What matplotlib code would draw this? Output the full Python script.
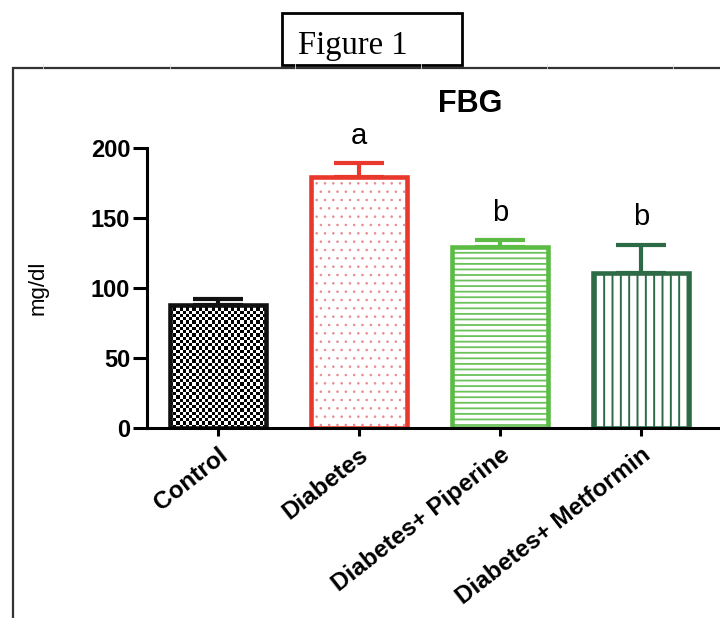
"""Bar chart of fasting blood glucose (FBG) for the four groups (Figure 1)."""
import matplotlib
matplotlib.use("Agg")
import matplotlib.pyplot as plt
import numpy as np
from matplotlib.lines import Line2D
from matplotlib.patches import Rectangle

groups = ["Control", "Diabetes", "Diabetes+ Piperine", "Diabetes+ Metformin"]
means = [88, 179, 129, 111]
errors = [4, 10, 5, 20]
letters = ["", "a", "b", "b"]
yticks = [0, 50, 100, 150, 200]

edge_colors = ["#111111", "#e8392c", "#5bbb45", "#2d6b47"]
hatch_colors = ["#111111", "#e98a8e", "#6cc25a", "#2d6b47"]
hatches = [None, "..", "---", "||"]
hatch_widths = [1.0, 0.6, 1.3, 1.4]

plt.rcParams["font.family"] = ["Liberation Sans", "DejaVu Sans"]

fig = plt.figure(figsize=(7.2, 6.18), dpi=100)
ax = fig.add_axes([0.2042, 0.3074, 0.7958, 0.4531])

x = np.arange(len(groups))
width = 0.68

# hatched fills first, outlines on top (lets the hatch colour differ from the edge)
for xi, m, h, hc, hw in zip(x, means, hatches, hatch_colors, hatch_widths):
    if not h:
        continue
    with plt.rc_context({"hatch.linewidth": hw}):
        ax.bar(xi, m, width=width, color="white", edgecolor=hc, hatch=h,
               linewidth=0, zorder=1)

bars = ax.bar(x, means, width=width, facecolor="none", edgecolor=edge_colors,
              linewidth=3.3, zorder=2)

# checkerboard fill for the control bar
ctrl = bars[0]
rows, cols = 38, 30
checker = (np.add.outer(np.arange(rows), np.arange(cols)) % 2).astype(float)
x0 = ctrl.get_x()
ax.imshow(checker, cmap="gray", extent=(x0, x0 + ctrl.get_width(), 0, ctrl.get_height()),
          aspect="auto", interpolation="nearest", zorder=1)

for xi, m, e, c in zip(x, means, errors, edge_colors):
    ax.errorbar(xi, m, yerr=[[0], [e]], fmt="none", ecolor=c, elinewidth=3,
                capsize=18, capthick=3, zorder=1.5)

for xi, m, e, lab in zip(x, means, errors, letters):
    if lab:
        ax.text(xi, m + e + 14, lab, ha="center", va="baseline", fontsize=21,
                clip_on=False)

ax.set_xlim(-0.5, 3.56)
ax.set_ylim(0, 200)
ax.set_yticks(yticks)
ax.set_xticks(x)
ax.set_xticklabels(groups, rotation=38, ha="right", va="top", rotation_mode="anchor",
                   fontsize=17.5, fontweight="bold")
for lbl in ax.get_yticklabels():
    lbl.set_fontsize(17)
    lbl.set_fontweight("bold")
ax.tick_params(axis="y", length=10, width=2.2, pad=2)
ax.tick_params(axis="x", length=6, width=2.2, pad=5)
for side in ("top", "right"):
    ax.spines[side].set_visible(False)
for side in ("left", "bottom"):
    ax.spines[side].set_linewidth(2.2)

ax.set_ylabel("mg/dl", fontsize=16)
ax.yaxis.set_label_coords(-0.172, 0.5)

fig.text(470 / 720, 1 - 104 / 618, "FBG", ha="center", va="center",
         fontsize=22, fontweight="bold")

# page frame and the "Figure 1" caption box
fig.add_artist(Rectangle((13 / 720, -0.1), 1.2, 1 - 68 / 618 + 0.1,
                         transform=fig.transFigure, fill=False, lw=1.6, ec="#333333"))
for px in [43, 170, 295, 421, 547, 673]:
    fig.add_artist(Line2D([px / 720, px / 720], [1 - 64 / 618, 1 - 68 / 618],
                          transform=fig.transFigure, lw=0.6, color="#e0e0e0"))
fig.add_artist(Rectangle((282 / 720, 1 - 65 / 618), 180 / 720, 52 / 618,
                         transform=fig.transFigure, fill=True, fc="white",
                         lw=2, ec="black"))
fig.text(298 / 720, 1 - 54 / 618, "Figure 1", ha="left", va="baseline",
         fontsize=23.5, family=["Liberation Serif", "DejaVu Serif"])

fig.savefig("out.png", dpi=100)
